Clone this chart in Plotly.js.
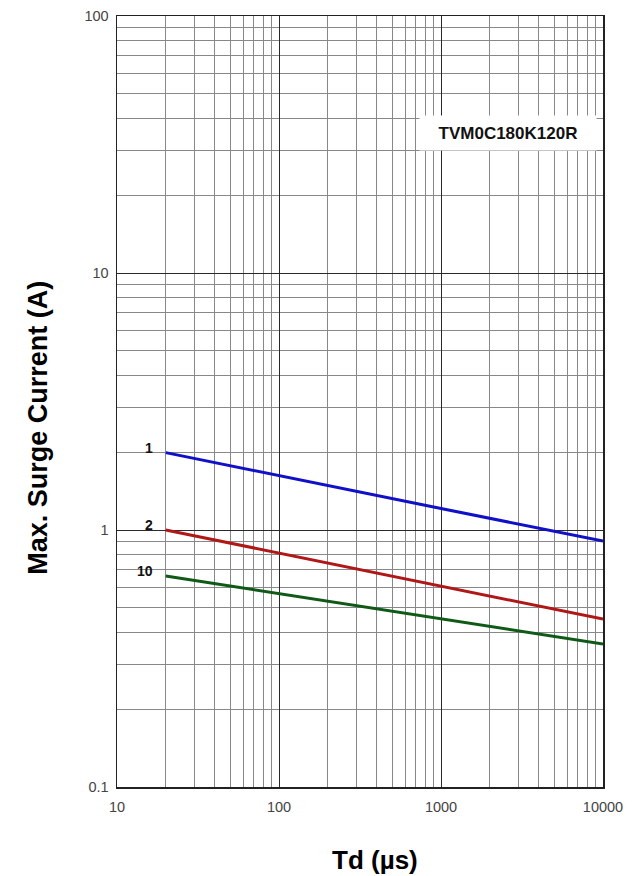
<!DOCTYPE html>
<html><head><meta charset="utf-8">
<script src="https://cdn.plot.ly/plotly-3.0.1.min.js"></script>
<style>html,body{margin:0;padding:0;background:#fff}#c{width:638px;height:876px}</style>
</head><body><div id="c"></div><script>
const td = [20, 100, 1000, 10000];
const curve1 = [2.0, 1.625, 1.213, 0.905];
const curve2 = [1.0, 0.814, 0.605, 0.45];
const curve10 = [0.662, 0.566, 0.451, 0.36];
const curveNames = ['1', '2', '10'];
const curveColors = ['#1010c8', '#b01818', '#105a18'];
const xTicks = [10, 100, 1000, 10000];
const yTicks = [0.1, 1, 10, 100];
const yTickText = ['0.1', '1', '10', '100'];
const partName = 'TVM0C180K120R';
const xTitle = 'Td (µs)';
const yTitle = 'Max. Surge Current (A)';

const FONT = 'Liberation Sans, Arial, sans-serif';
const series = [curve1, curve2, curve10];
const traces = series.map((s, i) => ({
  x: td, y: s, type: 'scatter', mode: 'lines', name: curveNames[i],
  line: {color: curveColors[i], width: 3}, hoverinfo: 'skip'
}));

const ann = series.map((s, i) => ({
  x: Math.log10(td[0]), y: Math.log10(s[0]), xref: 'x', yref: 'y',
  text: '<b>' + curveNames[i] + '</b>', showarrow: false,
  xanchor: 'right', yanchor: 'bottom', xshift: -11, yshift: -5,
  font: {family: FONT, size: 14, color: '#111'}
}));
ann.push({
  x: Math.log10(2594), y: Math.log10(35), xref: 'x', yref: 'y',
  text: '<b>' + partName + '</b>', showarrow: false,
  bgcolor: '#fff', width: 174, height: 32,
  font: {family: FONT, size: 17, color: '#111'}
});
ann.push({
  x: 0.531, y: -0.072, xref: 'paper', yref: 'paper', xanchor: 'center', yanchor: 'top',
  text: '<b>' + xTitle + '</b>', showarrow: false,
  font: {family: FONT, size: 26, color: '#000'}
});
ann.push({
  x: -0.163, y: 0.4656, xref: 'paper', yref: 'paper', xanchor: 'center', yanchor: 'middle',
  text: '<b>' + yTitle + '</b>', showarrow: false, textangle: -90,
  font: {family: FONT, size: 27, color: '#000'}
});

const axBase = {
  type: 'log', showline: true, linecolor: '#222', linewidth: 1.5, mirror: true,
  showgrid: true, gridcolor: '#2a2a2a', gridwidth: 1, zeroline: false,
  ticks: '', tickfont: {family: FONT, size: 14.5, color: '#444'},
  minor: {dtick: 'D1', showgrid: true, gridcolor: '#888', gridwidth: 1, ticks: ''}
};

const layout = {
  width: 638, height: 876,
  margin: {l: 117, r: 35, t: 16, b: 89},
  paper_bgcolor: '#fff', plot_bgcolor: '#fff', showlegend: false,
  xaxis: Object.assign({}, axBase, {
    range: [1, 4], tickvals: xTicks, ticktext: xTicks.map(String),
    ticklabelstandoff: 6
  }),
  yaxis: Object.assign({}, axBase, {
    range: [-1, 2], tickvals: yTicks, ticktext: yTickText,
    ticklabelstandoff: 4
  }),
  annotations: ann
};
Plotly.newPlot('c', traces, layout, {staticPlot: true, displayModeBar: false});
</script></body></html>
